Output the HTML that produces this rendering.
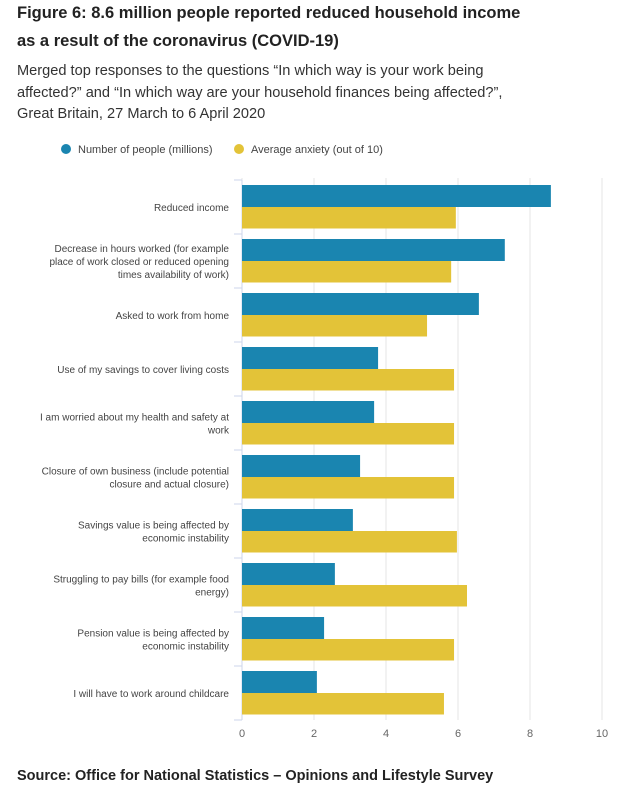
<!DOCTYPE html>
<html><head><meta charset="utf-8"><style>
body{margin:0;width:631px;height:804px;background:#fff;font-family:"Liberation Sans",sans-serif;color:#222;overflow:hidden;position:relative}
.t{position:absolute;left:17px;font-weight:bold;font-size:16.5px;line-height:28px;top:-1px}
.s{position:absolute;left:17px;top:61px;font-size:14.6px;line-height:21.5px;color:#333}
.src{position:absolute;left:17px;top:768px;font-weight:bold;font-size:14.5px}
</style></head><body>
<div class="t">Figure 6: 8.6 million people reported reduced household income<br>as a result of the coronavirus (COVID-19)</div>
<div class="s">Merged top responses to the questions “In which way is your work being<br>affected?” and “In which way are your household finances being affected?”,<br>Great Britain, 27 March to 6 April 2020</div>
<svg id="c" width="631" height="760" style="position:absolute;left:0;top:0"></svg>
<div class="src">Source: Office for National Statistics – Opinions and Lifestyle Survey</div>
<script>
const categories=[["Reduced income"],["Decrease in hours worked (for example","place of work closed or reduced opening","times availability of work)"],["Asked to work from home"],["Use of my savings to cover living costs"],["I am worried about my health and safety at","work"],["Closure of own business (include potential","closure and actual closure)"],["Savings value is being affected by","economic instability"],["Struggling to pay bills (for example food","energy)"],["Pension value is being affected by","economic instability"],["I will have to work around childcare"]];
const people=[8.58,7.3,6.58,3.78,3.67,3.28,3.08,2.58,2.28,2.08];
const anxiety=[5.94,5.81,5.14,5.89,5.89,5.89,5.97,6.25,5.89,5.61];
const ticks=[0,2,4,6,8,10];
const svg=document.getElementById('c');const NS='http://www.w3.org/2000/svg';
const x0=242,x1=602,top0=180,band=54;
const X=v=>x0+(x1-x0)*v/10;
function mk(t,a){const e=document.createElementNS(NS,t);for(const k in a)e.setAttribute(k,a[k]);svg.appendChild(e);return e;}
ticks.forEach(t=>{const g=mk('line',{x1:X(t),x2:X(t),y1:178,y2:720,stroke:'#e6e6e6','stroke-width':1});


const l=mk('text',{x:X(t),y:737,'font-size':11,fill:'#666','text-anchor':'middle'});l.textContent=t;

});
mk('line',{x1:x0,x2:x0,y1:top0,y2:top0+band*categories.length,stroke:'#ccd6eb','stroke-width':1});
for(let k=0;k<=categories.length;k++)mk('line',{x1:x0-8,x2:x0,y1:top0+k*band,y2:top0+k*band,stroke:'#ccd6eb'});
categories.forEach((c,i)=>{const y=top0+i*band;
const b=mk('rect',{x:x0,y:y+5,width:X(people[i])-x0,height:22,fill:'#1a85b0'});


const a=mk('rect',{x:x0,y:y+27,width:X(anxiety[i])-x0,height:21.5,fill:'#e3c338'});


const n=c.length,cy=y+band/2+4-(n-1)*6.5;
c.forEach((ln,j)=>{const t=mk('text',{x:229,y:cy+j*13,'font-size':10,fill:'#444','text-anchor':'end'});t.textContent=ln;

});
});
[[66,'#1a85b0','Number of people (millions)'],[239,'#e3c338','Average anxiety (out of 10)']].forEach(([x,col,txt])=>{
const d=mk('circle',{cx:x,cy:149,r:5,fill:col});


const t=mk('text',{x:x+12,y:153,'font-size':11,fill:'#444'});t.textContent=txt;

});
</script>
</body></html>
